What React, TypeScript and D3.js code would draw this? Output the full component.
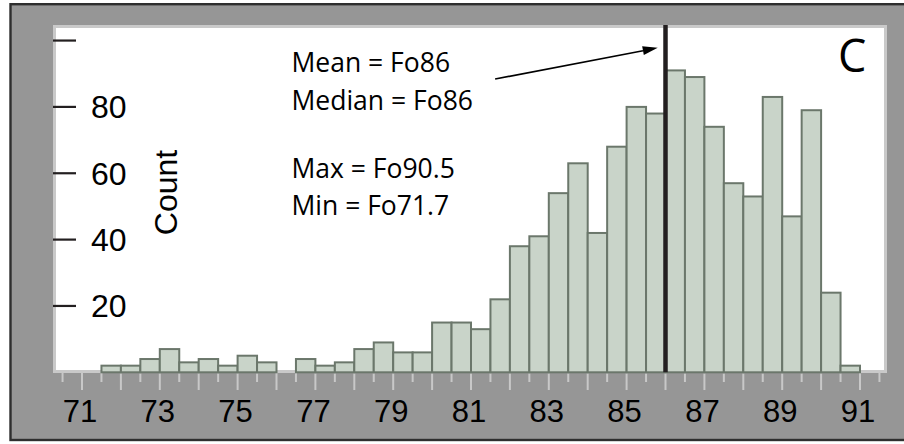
import React from 'react';
import * as d3 from 'd3';

// Histogram bins (Fo, bin start) and counts
const binStarts = [71.5, 72, 72.5, 73, 73.5, 74, 74.5, 75, 75.5, 76, 76.5, 77, 77.5, 78, 78.5, 79, 79.5, 80, 80.5, 81, 81.5, 82, 82.5, 83, 83.5, 84, 84.5, 85, 85.5, 86, 86.5, 87, 87.5, 88, 88.5, 89, 89.5, 90, 90.5];
const counts = [2, 2, 4, 7, 3, 4, 2, 5, 3, 0, 4, 2, 3, 7, 9, 6, 6, 15, 15, 13, 22, 38, 41, 54, 63, 42, 68, 80, 78, 91, 89, 74, 57, 53, 83, 47, 79, 24, 2];
const binWidth = 0.5;

const xTickLabels = [71, 73, 75, 77, 79, 81, 83, 85, 87, 89, 91];
const yTickValues = [20, 40, 60, 80, 100];
const yTickLabels = ['20', '40', '60', '80', ''];

const meanFo = 86;
const statLines = ['Mean = Fo86', 'Median = Fo86', 'Max = Fo90.5', 'Min = Fo71.7'];
const arrowFrom = [81.62, 88.4];
const arrowTo = [85.8, 97.8];

export default function App() {
  const W = 904, H = 444;
  const x = d3.scaleLinear().domain([71, 91]).range([82, 860]);
  const y = d3.scaleLinear().domain([0, 100]).range([372.3, 40.55]);

  const plotL = 53, plotR = 887, plotT = 25, plotB = 373;
  const majorTicks = d3.range(71, 92, 1);
  const minorTicks = d3.range(70.5, 92, 1);

  const ax = x(arrowFrom[0]), ay = y(arrowFrom[1]);
  const bx = x(arrowTo[0]), by = y(arrowTo[1]);
  const ang = Math.atan2(by - ay, bx - ax);
  const hl = 15, hw = 4.5;
  const baseX = bx - hl * Math.cos(ang), baseY = by - hl * Math.sin(ang);
  const head = `M${bx},${by} L${baseX + hw * Math.sin(ang)},${baseY - hw * Math.cos(ang)} L${baseX - hw * Math.sin(ang)},${baseY + hw * Math.cos(ang)} Z`;

  const labelFont = '"Liberation Sans", Arial, Helvetica, sans-serif';
  const annFont = '"Open Sans", "Noto Sans", sans-serif';

  return (
    <div style={{ position: 'absolute', left: 0, top: 0 }}>
      <svg width={W} height={H} style={{ display: 'block' }}>
        <rect x={0} y={0} width={W} height={H} fill="#ffffff" />
        <rect x={10.5} y={4.2} width={905} height={435.8} fill="#969696" stroke="#2e2e2e" strokeWidth={2.4} />
        <rect x={plotL + 1.5} y={plotT + 1.5} width={plotR - plotL - 3} height={plotB - plotT - 3} fill="#ffffff" stroke="#c9c9c9" strokeWidth={3} />

        {/* x ticks */}
        {majorTicks.map(t => (
          <line key={'M' + t} x1={x(t)} x2={x(t)} y1={372} y2={390} stroke="#c8c8c8" strokeWidth={2} />
        ))}
        {minorTicks.map(t => (
          <line key={'m' + t} x1={x(t)} x2={x(t)} y1={372} y2={382} stroke="#c8c8c8" strokeWidth={2} />
        ))}

        {/* bars */}
        {binStarts.map((b, i) => counts[i] > 0 ? (
          <rect key={b} x={x(b)} y={y(counts[i])} width={x(b + binWidth) - x(b)} height={y(0) - y(counts[i])}
            fill="#c9d4c9" stroke="#6b776b" strokeWidth={2} />
        ) : null)}

        {/* mean line */}
        <line x1={x(meanFo)} x2={x(meanFo)} y1={plotT} y2={y(0)} stroke="#231f20" strokeWidth={4.5} />

        {/* y ticks */}
        {yTickValues.map((v, i) => (
          <g key={v}>
            <line x1={plotL} x2={76} y1={y(v)} y2={y(v)} stroke="#231f20" strokeWidth={2.2} />
            {yTickLabels[i] && (
              <text x={91} y={y(v) + 11.5} fontFamily={labelFont} fontSize={32} fill="#000">{yTickLabels[i]}</text>
            )}
          </g>
        ))}

        {/* x labels */}
        {xTickLabels.map(t => (
          <text key={t} x={x(t) - 2} y={422} textAnchor="middle" fontFamily={labelFont} fontSize={31} fill="#000">{t}</text>
        ))}

        {/* axis title */}
        <text transform="translate(176.5,192.5) rotate(-90)" textAnchor="middle" fontFamily={labelFont} fontSize={32} fill="#000">Count</text>

        {/* annotations */}
        <text x={291.5} y={71.7} fontFamily={annFont} fontSize={26.5} fill="#000">{statLines[0]}</text>
        <text x={291.5} y={110} fontFamily={annFont} fontSize={26.5} fill="#000">{statLines[1]}</text>
        <text x={291.5} y={178.3} fontFamily={annFont} fontSize={26.5} fill="#000">{statLines[2]}</text>
        <text x={291.5} y={215} fontFamily={annFont} fontSize={26.5} fill="#000">{statLines[3]}</text>

        <line x1={ax} y1={ay} x2={baseX} y2={baseY} stroke="#000" strokeWidth={1.6} />
        <path d={head} fill="#000" />

        <text x={838} y={71.7} fontFamily={annFont} fontSize={45} fill="#000">C</text>
      </svg>
    </div>
  );
}
